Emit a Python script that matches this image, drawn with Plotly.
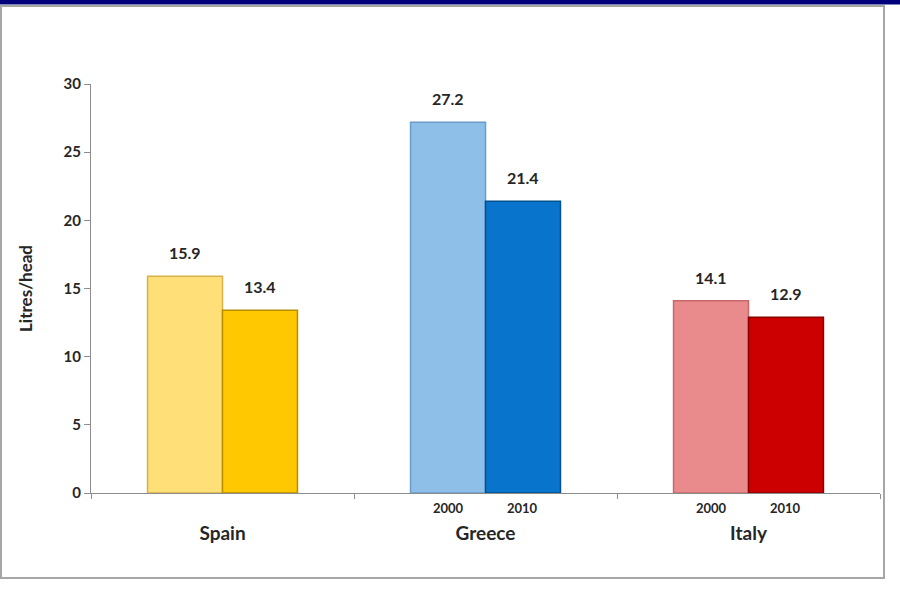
import plotly.graph_objects as go

countries = ["Spain", "Greece", "Italy"]
values_2000 = [15.9, 27.2, 14.1]
values_2010 = [13.4, 21.4, 12.9]
years = ["2000", "2010"]
colors_2000 = ["#FFDF77", "#8DBFE9", "#E98A8C"]
colors_2010 = ["#FFC800", "#0874CB", "#CC0000"]
edge_2000 = ["#D9B24A", "#6A9CC8", "#C86A6C"]
edge_2010 = ["#B88E00", "#04508E", "#8A0000"]
year_label_countries = ["Greece", "Italy"]

bargap = 0.43
bw = (1 - bargap) / 2

fig = go.Figure()
fig.add_trace(go.Bar(x=countries, y=values_2000, name=years[0],
                     marker=dict(color=colors_2000, line=dict(color=edge_2000, width=1.5))))
fig.add_trace(go.Bar(x=countries, y=values_2010, name=years[1],
                     marker=dict(color=colors_2010, line=dict(color=edge_2010, width=1.5))))

ann = []
for i, c in enumerate(countries):
    for off, v in ((-bw / 2, values_2000[i]), (bw / 2, values_2010[i])):
        ann.append(dict(x=i + off, y=v, xref="x", yref="y", text=f"<b>{v:.1f}</b>",
                        showarrow=False, yanchor="bottom", yshift=12,
                        font=dict(family="Lato", size=16, color="#262626")))
    if c in year_label_countries:
        for off, yr in ((-bw / 2, years[0]), (bw / 2, years[1])):
            ann.append(dict(x=i + off, y=0, xref="x", yref="y", text=f"<b>{yr}</b>",
                            showarrow=False, yanchor="top", yshift=-5,
                            font=dict(family="Lato", size=13, color="#262626")))

def px(p):
    return (p - 91) / 789

def py(p):
    return (493 - p) / 409

shapes = [
    dict(type="rect", xref="paper", yref="paper", x0=px(1), x1=px(884), y0=py(578), y1=py(6),
         line=dict(color="#A6A6A6", width=2), fillcolor="rgba(0,0,0,0)", layer="below"),
    dict(type="rect", xref="paper", yref="paper", x0=px(-5), x1=px(905), y0=py(4.5), y1=py(-5),
         line=dict(width=0), fillcolor="#00007A"),
]

fig.update_layout(
    width=900, height=605,
    margin=dict(l=91, r=20, t=84, b=112),
    barmode="group", bargap=bargap, bargroupgap=0,
    plot_bgcolor="white", paper_bgcolor="white",
    showlegend=False,
    annotations=ann, shapes=shapes,
    font=dict(family="Lato", color="#262626"),
)
fig.update_xaxes(type="category", showline=True, linecolor="#8C8C8C", linewidth=1,
                 ticks="outside", tickson="boundaries", ticklen=5, tickcolor="#8C8C8C",
                 tickfont=dict(family="Lato", size=19, color="#262626"),
                 ticklabelstandoff=23, showgrid=False,
                 tickvals=countries, ticktext=[f"<b>{c}</b>" for c in countries])
fig.update_yaxes(range=[0, 30], dtick=5, showline=True, linecolor="#8C8C8C", linewidth=1,
                 ticks="outside", ticklen=6, tickcolor="#8C8C8C", showgrid=False, zeroline=False,
                 tickfont=dict(family="Lato", size=15, color="#262626"),
                 tickprefix="<b>", ticksuffix="</b>",
                 title=dict(text="<b>Litres/head</b>", standoff=26,
                            font=dict(family="Lato", size=17, color="#262626")))

fig.write_html("out.html", config={"displayModeBar": False},
               post_script="document.body.style.margin='0';document.body.style.overflow='hidden';")
